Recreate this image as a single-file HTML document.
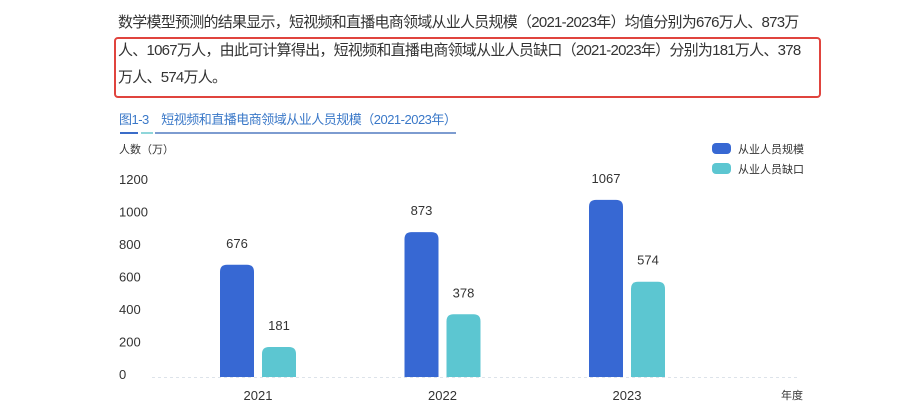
<!DOCTYPE html>
<html><head><meta charset="utf-8"><style>
body{margin:0;width:919px;height:414px;background:#fff;position:relative;overflow:hidden;font-family:"Liberation Sans","Noto Sans CJK SC",sans-serif;}
.p{position:absolute;left:118px;font-size:15px;color:#333;white-space:nowrap;letter-spacing:-0.75px}
</style></head><body>
<div class="p" style="top:11px">数学模型预测的结果显示，短视频和直播电商领域从业人员规模（2021-2023年）均值分别为676万人、873万</div>
<div class="p" style="top:39px">人、1067万人，由此可计算得出，短视频和直播电商领域从业人员缺口（2021-2023年）分别为181万人、378</div>
<div class="p" style="top:66px">万人、574万人。</div>
<div style="position:absolute;left:114px;top:37px;width:703px;height:57px;border:2px solid #e0443e;border-radius:4px"></div>
<div style="position:absolute;left:119px;top:109px;font-size:13px;color:#3a78c8;white-space:nowrap;letter-spacing:-0.5px">图1-3&nbsp;&nbsp;&nbsp;&nbsp;短视频和直播电商领域从业人员规模（2021-2023年）</div>
<div style="position:absolute;left:120px;top:132px;width:18px;height:2px;background:#3a6cc8"></div>
<div style="position:absolute;left:141px;top:132px;width:12px;height:2px;background:#8fd6da"></div>
<div style="position:absolute;left:155px;top:132px;width:301px;height:2px;background:#7d9cd0"></div>
<svg width="919" height="414" style="position:absolute;left:0;top:0" id="chart"></svg>
<script>
const categories=["2021","2022","2023"];
const seriesNames=["从业人员规模","从业人员缺口"];
const scaleValues=[676,873,1067];
const gapValues=[181,378,574];
const tickLabels=[0,200,400,600,800,1000,1200];
const svg=document.getElementById('chart');
const NS="http://www.w3.org/2000/svg";
const base=377, k=0.166, tickBase=374, tickK=0.1625;
const colors=["#3768d3","#5cc6d1"];
function y(v){return base-v*k;}
function xc(i){return 258+i*184.5;}
function el(t,a,txt){const e=document.createElementNS(NS,t);for(const n in a)e.setAttribute(n,a[n]);if(txt!==undefined)e.textContent=txt;svg.appendChild(e);return e;}
let e=el('text',{x:119,y:153,'font-size':11,fill:'#333'},'人数（万）');

tickLabels.forEach(t=>{const e=el('text',{x:119,y:tickBase-t*tickK+5,'font-size':13,fill:'#333'},String(t));
});
e=el('line',{x1:152,x2:800,y1:base+0.5,y2:base+0.5,stroke:'#dde3ea','stroke-dasharray':'3,3'});

[scaleValues,gapValues].forEach((vals,s)=>{vals.forEach((v,i)=>{
 const x=xc(i)-38+s*42, top=y(v), r=7;
 const e=el('path',{d:`M${x},${base}V${top+r}Q${x},${top} ${x+r},${top}H${x+34-r}Q${x+34},${top} ${x+34},${top+r}V${base}Z`,fill:colors[s]});
 
 const t=el('text',{x:x+17,y:top-17,'font-size':13,fill:'#333','text-anchor':'middle'},String(v));
 
});});
categories.forEach((c,i)=>{const e=el('text',{x:xc(i),y:400,'font-size':13,fill:'#333','text-anchor':'middle'},c);
});
e=el('text',{x:781,y:399,'font-size':11,fill:'#333'},'年度');

seriesNames.forEach((n,s)=>{const r=el('rect',{x:712,y:143+s*20,width:19,height:11,rx:4,fill:colors[s]});

const t=el('text',{x:738,y:153+s*20,'font-size':11,fill:'#333'},n);
});
</script>
</body></html>
